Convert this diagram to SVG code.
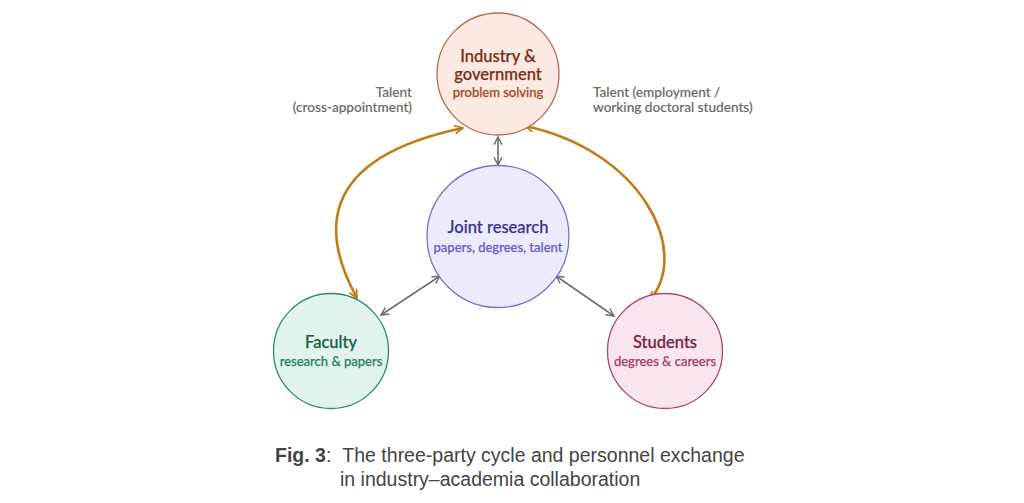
<svg xmlns="http://www.w3.org/2000/svg" width="1024" height="503" viewBox="0 0 1024 503">
<defs>
<style>
.t{font-family:Lato,"Noto Sans",sans-serif;font-weight:500;font-size:16.5px;text-anchor:middle;stroke-width:0.25}
.s{font-family:Lato,"Noto Sans",sans-serif;font-weight:500;font-size:13px;text-anchor:middle;stroke-width:0.25}
.lab{font-family:Lato,"Noto Sans",sans-serif;font-weight:500;font-size:13.6px;fill:#6b6b6b;stroke:#6b6b6b;stroke-width:0.15}
.orange{fill:none;stroke:#c27c17;stroke-width:2.6}
.grey{fill:none;stroke:#6e6e6e;stroke-width:1.6}
.cap{font-family:"Liberation Sans",Arial,sans-serif;font-size:19.5px;fill:#444}
.ind{fill:#7a2f1c;stroke:#7a2f1c}.inds{fill:#a34e2a;stroke:#a34e2a}
.jr{fill:#3f3590;stroke:#3f3590}.jrs{fill:#6a5fc8;stroke:#6a5fc8}
.fa{fill:#1f5e4a;stroke:#1f5e4a}.fas{fill:#2e8069;stroke:#2e8069}
.st{fill:#7a2346;stroke:#7a2346}.sts{fill:#a0456d;stroke:#a0456d}
</style>
<marker id="ao" viewBox="0 0 10 10" refX="9" refY="5" markerWidth="4" markerHeight="4" orient="auto-start-reverse" markerUnits="strokeWidth">
<path d="M1,1 L9,5 L1,9" fill="none" stroke="#c27c17" stroke-width="1.6"/>
</marker>
<marker id="ag" viewBox="0 0 10 10" refX="9" refY="5" markerWidth="6" markerHeight="6" orient="auto-start-reverse" markerUnits="strokeWidth">
<path d="M1,1 L9,5 L1,9" fill="none" stroke="#6e6e6e" stroke-width="1.5"/>
</marker>
</defs>
<rect width="1024" height="503" fill="#fff"/>
<g id="connectors">
<path class="orange" d="M357,298 C325,240 310,160 463,128" marker-start="url(#ao)" marker-end="url(#ao)"/>
<path class="orange" d="M525,126 C640,150 692,250 650,300" marker-start="url(#ao)" marker-end="url(#ao)"/>
<line class="grey" x1="498" y1="137" x2="498" y2="165" marker-start="url(#ag)" marker-end="url(#ag)"/>
<line class="grey" x1="381" y1="315" x2="440" y2="276" marker-start="url(#ag)" marker-end="url(#ag)"/>
<line class="grey" x1="556" y1="276" x2="614" y2="316" marker-start="url(#ag)" marker-end="url(#ag)"/>
</g>
<g id="industry">
<circle cx="498" cy="74" r="61" fill="#fbe9e2" stroke="#b8694f" stroke-width="1.3"/>
<text class="t ind" x="498" y="62">Industry &amp;</text>
<text class="t ind" x="498" y="80">government</text>
<text class="s inds" x="498" y="97">problem solving</text>
</g>
<g id="joint">
<circle cx="498" cy="236.5" r="71" fill="#ecebfb" stroke="#7b6fd0" stroke-width="1.3"/>
<text class="t jr" x="498" y="233">Joint research</text>
<text class="s jrs" x="498" y="252">papers, degrees, talent</text>
</g>
<g id="faculty">
<circle cx="331" cy="351" r="57.5" fill="#e0f3ec" stroke="#2e8b6b" stroke-width="1.3"/>
<text class="t fa" x="331" y="348">Faculty</text>
<text class="s fas" x="331" y="366">research &amp; papers</text>
</g>
<g id="students">
<circle cx="665" cy="351" r="57.5" fill="#f9e5ee" stroke="#a8466f" stroke-width="1.3"/>
<text class="t st" x="665" y="348">Students</text>
<text class="s sts" x="665" y="366">degrees &amp; careers</text>
</g>
<g id="labels">
<text class="lab" x="412" y="97" text-anchor="end">Talent</text>
<text class="lab" x="412" y="112" text-anchor="end">(cross-appointment)</text>
<text class="lab" x="593" y="97">Talent (employment /</text>
<text class="lab" x="593" y="112">working doctoral students)</text>
</g>
<g id="caption">
<text class="cap" x="275" y="462"><tspan font-weight="bold">Fig. 3</tspan>:<tspan dx="11">The three-party cycle and personnel exchange</tspan></text>
<text class="cap" x="340" y="486">in industry–academia collaboration</text>
</g>
</svg>
